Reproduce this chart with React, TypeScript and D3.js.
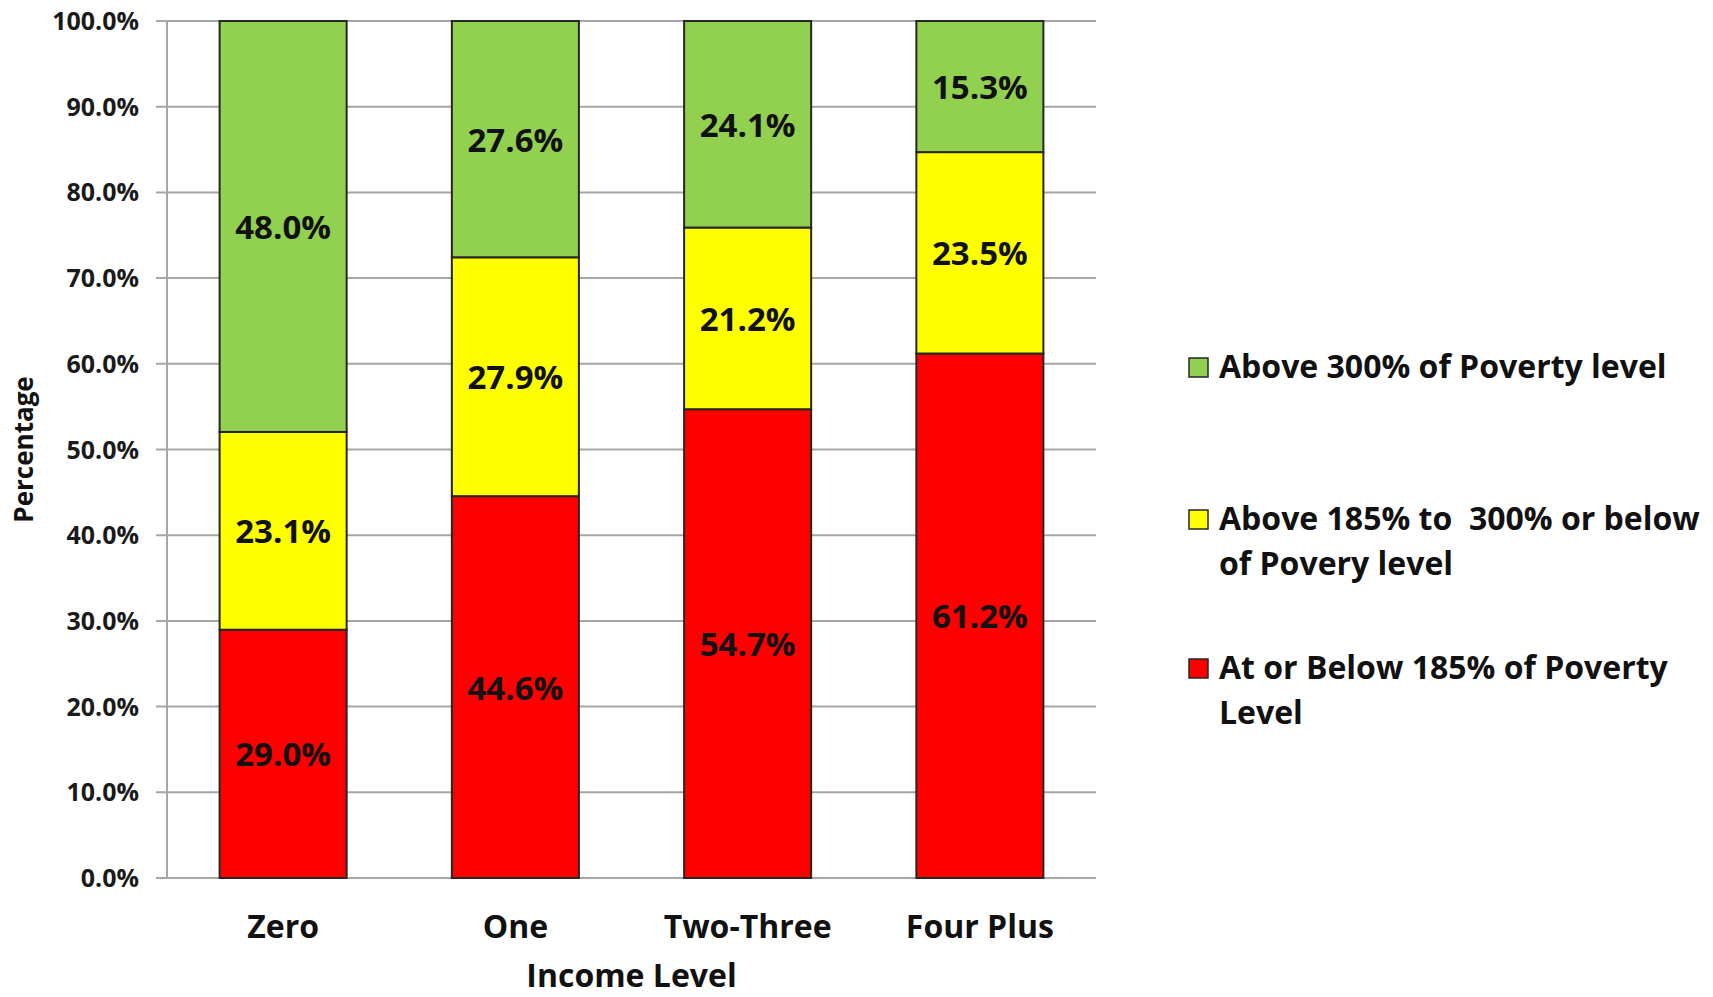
import React from "react";
import * as d3 from "d3";

const categories = ["Zero", "One", "Two-Three", "Four Plus"];
const belowValues = [29.0, 44.6, 54.7, 61.2];
const middleValues = [23.1, 27.9, 21.2, 23.5];
const aboveValues = [48.0, 27.6, 24.1, 15.3];
const seriesColors = ["#FF0000", "#FFFF00", "#92D050"];
const yTicks = [0, 10, 20, 30, 40, 50, 60, 70, 80, 90, 100];

const legendLines = [
  ["Above 300% of Poverty level"],
  ["Above 185% to\u00a0 300% or below", "of Povery level"],
  ["At or Below 185% of Poverty", "Level"],
];
const legendColors = ["#92D050", "#FFFF00", "#FF0000"];

const W = 1713;
const H = 997;
const FONT = "'Open Sans', Lato, sans-serif";

export default function App() {
  const left = 167;
  const right = 1096;
  const top = 21;
  const bottom = 878;

  const x = d3.scaleBand().domain(categories).range([left, right]).paddingInner(0.453).paddingOuter(0.2265);
  const y = d3.scaleLinear().domain([0, 100]).range([bottom, top]);

  const seriesValues = [belowValues, middleValues, aboveValues];
  const rows = categories.map((c, i) => {
    const total = belowValues[i] + middleValues[i] + aboveValues[i];
    const o: any = { cat: c };
    seriesValues.forEach((s, k) => (o["s" + k] = (s[i] / total) * 100));
    return o;
  });
  const stack = d3.stack().keys(["s0", "s1", "s2"]);
  const stacked = stack(rows as any);

  return (
    <svg width={W} height={H} style={{ display: "block", position: "absolute", left: 0, top: 0 }}>
      <rect width={W} height={H} fill="#fff" />
      {yTicks.map((t) => (
        <g key={t}>
          <line x1={left - 11} x2={right} y1={y(t)} y2={y(t)} stroke="#A6A6A6" strokeWidth={2} />
          <text x={139} y={y(t)} dy="0.36em" textAnchor="end" fontFamily={FONT} fontWeight={700} fontSize={25} fill="#1a1a1a">
            {t.toFixed(1) + "%"}
          </text>
        </g>
      ))}
      <line x1={left} x2={left} y1={top} y2={bottom} stroke="#A6A6A6" strokeWidth={2} />
      {stacked.map((layer, k) => (
        <g key={k}>
          {layer.map((d: any, i) => (
            <rect
              key={i}
              x={x(categories[i])!}
              width={x.bandwidth()}
              y={y(d[1])}
              height={y(d[0]) - y(d[1])}
              fill={seriesColors[k]}
              stroke="#262626"
              strokeWidth={2}
            />
          ))}
        </g>
      ))}
      {stacked.map((layer, k) => (
        <g key={"l" + k}>
          {layer.map((d: any, i) => (
            <text
              key={i}
              x={x(categories[i])! + x.bandwidth() / 2}
              y={(y(d[0]) + y(d[1])) / 2}
              dy="0.38em"
              textAnchor="middle"
              fontFamily={FONT}
              fontWeight={700}
              fontSize={33}
              fill="#111"
            >
              {seriesValues[k][i].toFixed(1) + "%"}
            </text>
          ))}
        </g>
      ))}
      {categories.map((c) => (
        <text key={c} x={x(c)! + x.bandwidth() / 2} y={938} textAnchor="middle" fontFamily={FONT} fontWeight={700} fontSize={32} fill="#111">
          {c}
        </text>
      ))}
      <text x={(left + right) / 2} y={987} textAnchor="middle" fontFamily={FONT} fontWeight={700} fontSize={32} fill="#111">
        Income Level
      </text>
      <text
        transform={`translate(33, ${(top + bottom) / 2}) rotate(-90)`}
        textAnchor="middle"
        fontFamily={FONT}
        fontWeight={700}
        fontSize={26}
        fill="#111"
      >
        Percentage
      </text>
      {legendLines.map((lines, k) => {
        const baseY = [378, 530, 679][k];
        return (
          <g key={k}>
            <rect x={1189} y={baseY - 20} width={19} height={19} fill={legendColors[k]} stroke="#262626" strokeWidth={1.5} />
            {lines.map((ln, j) => (
              <text key={j} x={1219} y={baseY + j * 45} fontFamily={FONT} fontWeight={700} fontSize={32} fill="#111" style={{ whiteSpace: "pre" }}>
                {ln}
              </text>
            ))}
          </g>
        );
      })}
    </svg>
  );
}
